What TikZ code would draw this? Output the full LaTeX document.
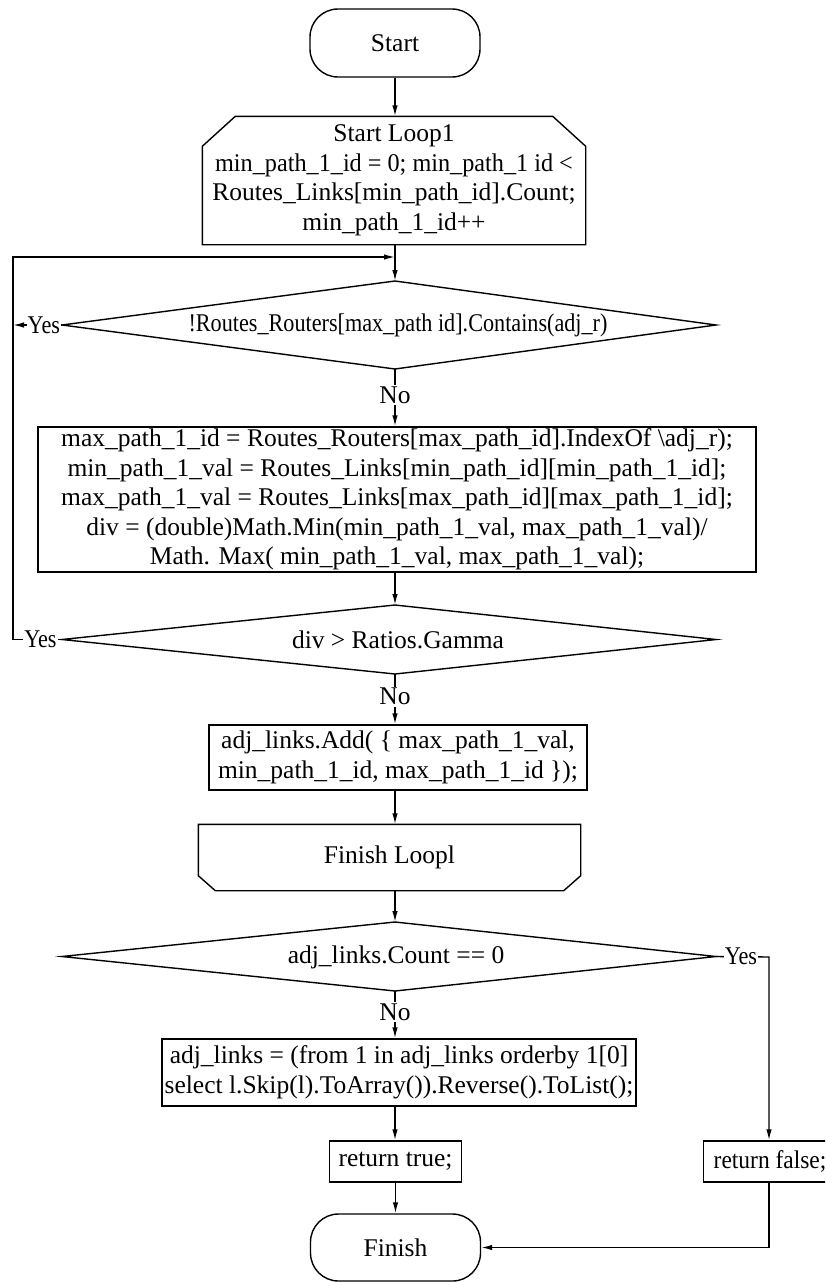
\documentclass[tikz,border=0pt]{standalone}
\usepackage{fontspec}
\setmainfont{Liberation Serif}
\newfontfamily\condensedfont{Liberation Serif}[FakeStretch=0.87]
\newfontfamily\slightfont{Liberation Serif}[FakeStretch=0.95]
\newfontfamily\falsefont{Liberation Serif}[FakeStretch=0.92]
\usetikzlibrary{arrows.meta}
\newcommand\flowsize{\fontsize{25.5}{29.5}\selectfont}
\begin{document}
\begin{tikzpicture}[x=1pt,y=-1pt,line width=1.4pt,
  every node/.style={font=\flowsize,inner sep=0pt},
  flow/.style={-{Latex[length=11pt,width=5.5pt]}},
  term/.style={draw,rounded corners=28pt,minimum width=170pt,minimum height=68pt},
  box/.style={draw,align=center},
  lbl/.style={fill=white,inner sep=1.5pt},
  ylbl/.style={fill=white,inner sep=1pt,font=\condensedfont\flowsize},
]
\useasboundingbox (0,0) rectangle (825,1282);
\clip (0,0) rectangle (825,1282);

% terminals
\node[term] (start) at (395,43) {Start};
\node[term,minimum height=67pt] (finish) at (395.5,1247.5) {Finish};

% loop header with chamfered top corners
\node[align=center,minimum width=382pt,minimum height=127pt] (loop) at (394,180.5)
  {Start Loop1\\{\slightfont min\_path\_1\_id = 0; min\_path\_1 id <}\\Routes\_Links[min\_path\_id].Count;\\min\_path\_1\_id++};
\draw ([xshift=33pt]loop.north west) -- ([xshift=-33pt]loop.north east)
  -- ([yshift=-30pt]loop.north east) -- (loop.south east) -- (loop.south west)
  -- ([yshift=-30pt]loop.north west) -- cycle;

% decision 1
\coordinate (d1t) at (395,281);
\coordinate (d1r) at (716,325);
\coordinate (d1b) at (395,369);
\coordinate (d1l) at (62,325);
\draw (d1t) -- (d1r) -- (d1b) -- (d1l) -- cycle;
\node[font=\condensedfont\flowsize] (d1) at (398,325) {!Routes\_Routers[max\_path id].Contains(adj\_r)};

% main computation block
\node[box,minimum width=718pt,minimum height=145pt] (calc) at (397,499.5)
  {max\_path\_1\_id = Routes\_Routers[max\_path\_id].IndexOf \textbackslash adj\_r);\\
   min\_path\_1\_val = Routes\_Links[min\_path\_id][min\_path\_1\_id];\\
   max\_path\_1\_val = Routes\_Links[max\_path\_id][max\_path\_1\_id];\\
   div = (double)Math.Min(min\_path\_1\_val, max\_path\_1\_val)/\\
   Math. Max( min\_path\_1\_val, max\_path\_1\_val);};

% decision 2
\coordinate (d2t) at (395,605);
\coordinate (d2r) at (716,639.5);
\coordinate (d2b) at (395,674);
\coordinate (d2l) at (62,639.5);
\draw (d2t) -- (d2r) -- (d2b) -- (d2l) -- cycle;
\node (d2) at (398,640) {div > Ratios.Gamma};

% add link
\node[box,minimum width=378pt,minimum height=65pt] (add) at (398,757.5)
  {adj\_links.Add( \{ max\_path\_1\_val,\\min\_path\_1\_id, max\_path\_1\_id \});};

% loop end with chamfered bottom corners
\node[minimum width=381pt,minimum height=65pt] (floop) at (389.5,857.5) {Finish Loopl};
\draw (floop.north west) -- (floop.north east) -- ([yshift=15pt]floop.south east)
  -- ([xshift=-17pt]floop.south east) -- ([xshift=17pt]floop.south west)
  -- ([yshift=15pt]floop.south west) -- cycle;

% decision 3
\coordinate (d3t) at (395,922);
\coordinate (d3r) at (716,956.5);
\coordinate (d3b) at (395,991);
\coordinate (d3l) at (62,956.5);
\draw (d3t) -- (d3r) -- (d3b) -- (d3l) -- cycle;
\node (d3) at (396,957) {adj\_links.Count == 0};

% sort block and returns
\node[box,minimum width=474pt,minimum height=67pt] (sort) at (399,1072.5)
  {adj\_links = (from 1 in adj\_links orderby 1[0]\\select l.Skip(l).ToArray()).Reverse().ToList();};
\node[box,minimum width=132pt,minimum height=41pt] (rtrue) at (395.5,1161.5) {return true;};
\node[draw,minimum width=132pt,minimum height=41pt,inner xsep=10pt,anchor=west,font=\falsefont\flowsize]
  (rfalse) at (703,1161.5) {return false;};

% loop-back rail
\coordinate (rail) at (13,257);
\coordinate (m1) at (395,257);
\coordinate (rcol) at (769,957);

% connectors
\draw[flow] (start.south) -- (start.south |- loop.north);
\draw[flow] (loop.south -| d1t) -- (d1t);
\draw[flow] (d1l) -- node[ylbl,pos=0.37] {Yes} (d1l -| rail);
\draw[flow] (d1b) -- node[lbl,pos=0.45] {No} (d1b |- calc.north);
\draw[flow] (calc.south -| d2t) -- (d2t);
\draw[flow] (d2l) -- node[ylbl,pos=0.44] {Yes} (d2l -| rail) -- (rail) -- (m1);
\draw[flow] (d2b) -- node[lbl,pos=0.45] {No} (d2b |- add.north);
\draw[flow] (add.south -| d2t) -- (d2t |- floop.north);
\draw[flow] (floop.south -| d3t) -- (d3t);
\draw[flow] (d3b) -- node[lbl,pos=0.45] {No} (d3b |- sort.north);
\draw[flow] (d3r) -- node[ylbl,pos=0.47] {Yes} (rcol) -- (rcol |- rfalse.north);
\draw[flow] (sort.south -| d3t) -- (d3t |- rtrue.north);
\draw[flow] (rtrue.south) -- (rtrue.south |- finish.north);
\draw[flow] (rcol |- rfalse.south) |- (finish.east);
\end{tikzpicture}
\end{document}
